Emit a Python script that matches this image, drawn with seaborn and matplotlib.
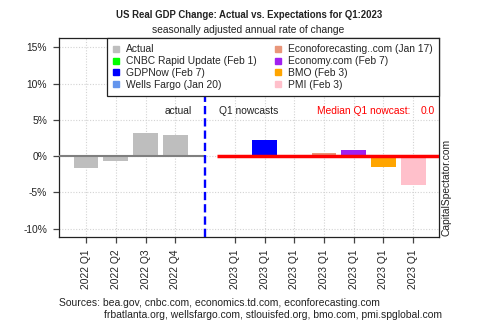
import numpy as np
import pandas as pd
import matplotlib
matplotlib.use("Agg")
import matplotlib.pyplot as plt
import seaborn as sns
from matplotlib.lines import Line2D

# ---- data ----
actual_labels = ["2022 Q1", "2022 Q2", "2022 Q3", "2022 Q4"]
actual_values = [-1.6, -0.6, 3.2, 2.9]
nowcast_names = ["CNBC Rapid Update (Feb 1)", "GDPNow (Feb 7)", "Wells Fargo (Jan 20)",
                 "Econoforecasting..com (Jan 17)", "Economy.com (Feb 7)", "BMO (Feb 3)", "PMI (Feb 3)"]
nowcast_values = [-0.3, 2.2, 0.0, 0.5, 0.8, -1.5, -4.0]
nowcast_tick = "2023 Q1"
series_colors = ["#BEBEBE", "#00FF00", "#0000FF", "#6495ED", "#E9967A", "#A020F0", "#FFA500", "#FFC0CB"]
ytick_values = [-10, -5, 0, 5, 10, 15]

sns.set_theme(style="white")
plt.rcParams['font.family'] = ['Liberation Sans', 'DejaVu Sans']
FS = 7.4

# positions: actual slots, gap slot, nowcast slots
n_act = len(actual_values)
gap = n_act
act_pos = list(range(n_act))
now_pos = [gap + 1 + i for i in range(len(nowcast_values))]

series_names = ["Actual"] + nowcast_names
df = pd.DataFrame({
    "pos": act_pos + now_pos,
    "value": actual_values + nowcast_values,
    "series": ["Actual"] * n_act + nowcast_names,
})
palette = dict(zip(series_names, series_colors))

fig = plt.figure(figsize=(5, 3.33), dpi=100)
W, H = 500, 333
L, R, T, B = 59, 439.3, 38.3, 236.7
ax = fig.add_axes([L / W, (H - B) / H, (R - L) / W, (B - T) / H])

sns.barplot(data=df, x="pos", y="value", hue="series", palette=palette,
            native_scale=True, dodge=False, width=0.83, errorbar=None,
            legend=False, ax=ax, saturation=1, linewidth=0, zorder=2)

ax.set_xlim(-0.908, 11.876)
ax.set_ylim(-11.1, 16.24)

ticks = act_pos + now_pos
ax.set_xticks(ticks)
ax.set_xticklabels(actual_labels + [nowcast_tick] * len(now_pos), rotation=90, fontsize=FS)
ax.set_yticks(ytick_values)
ax.set_yticklabels([f"{v}%" for v in ytick_values], fontsize=FS)
ax.set_xlabel("")
ax.set_ylabel("")

ax.set_axisbelow(True)
ax.grid(True, color="#D3D3D3", linestyle=(0, (1, 1.5)), linewidth=0.8, zorder=0)
for s in ax.spines.values():
    s.set_color("#222222")
    s.set_linewidth(0.9)
ax.tick_params(axis="both", which="both", length=4.3, width=0.9, color="#444444",
               direction="out", bottom=True, left=True, labelcolor="#222222")
ax.tick_params(axis="y", pad=4.3)
ax.tick_params(axis="x", pad=5)

# zero line for actual section, median line for nowcasts
ax.hlines(0, -0.908, gap, color="#7F7F7F", linewidth=1.5, zorder=3)
median = float(np.median(nowcast_values))
ax.hlines(median, gap + 0.4, 11.876, color="#FF0000", linewidth=2.5, zorder=4)
ax.axvline(gap, color="#0000FF", linestyle=(0, (3.5, 1.7)), linewidth=1.7, zorder=5)

ty = 6.26
ax.text(gap - 0.45, ty, "actual", ha="right", va="center", fontsize=FS, color="#222222")
ax.text(gap + 0.47, ty, "Q1 nowcasts", ha="left", va="center", fontsize=FS, color="#222222")
ax.text(10.9, ty, "Median Q1 nowcast:", ha="right", va="center", fontsize=FS, color="#FF0000")
ax.text(11.73, ty, f"{median:.1f}", ha="right", va="center", fontsize=FS, color="#FF0000")

handles = [Line2D([], [], marker="s", linestyle="", color=c, markersize=3.8, label=n)
           for n, c in zip(series_names, series_colors)]
leg = ax.legend(handles=handles, ncol=2, loc="upper right", bbox_to_anchor=(1, 1),
                frameon=True, fancybox=False, borderaxespad=0, fontsize=FS,
                handlelength=0.5, handletextpad=0.75, columnspacing=1.8,
                labelspacing=0.17, borderpad=0.6)
leg.get_frame().set_edgecolor("#222222")
leg.get_frame().set_linewidth(0.9)
leg.get_frame().set_alpha(1)
leg.set_zorder(10)

fig.text(249 / W, 1 - 15 / H, "US Real GDP Change: Actual vs. Expectations for Q1:2023",
         ha="center", va="center", fontsize=6.95, fontweight="bold", color="#222222")
fig.text(248 / W, 1 - 30 / H, "seasonally adjusted annual rate of change",
         ha="center", va="center", fontsize=FS, color="#222222")
fig.text(446.7 / W, (H - 236) / H, "CapitalSpectator.com", rotation=90,
         ha="center", va="bottom", fontsize=FS, color="#222222")
fig.text(59.3 / W, 1 - 303.3 / H, "Sources: bea.gov, cnbc.com, economics.td.com, econforecasting.com",
         ha="left", va="center", fontsize=7.45, color="#222222")
fig.text(104 / W, 1 - 315.3 / H, "frbatlanta.org, wellsfargo.com, stlouisfed.org, bmo.com, pmi.spglobal.com",
         ha="left", va="center", fontsize=7.45, color="#222222")

fig.savefig("out.png", dpi=100)
